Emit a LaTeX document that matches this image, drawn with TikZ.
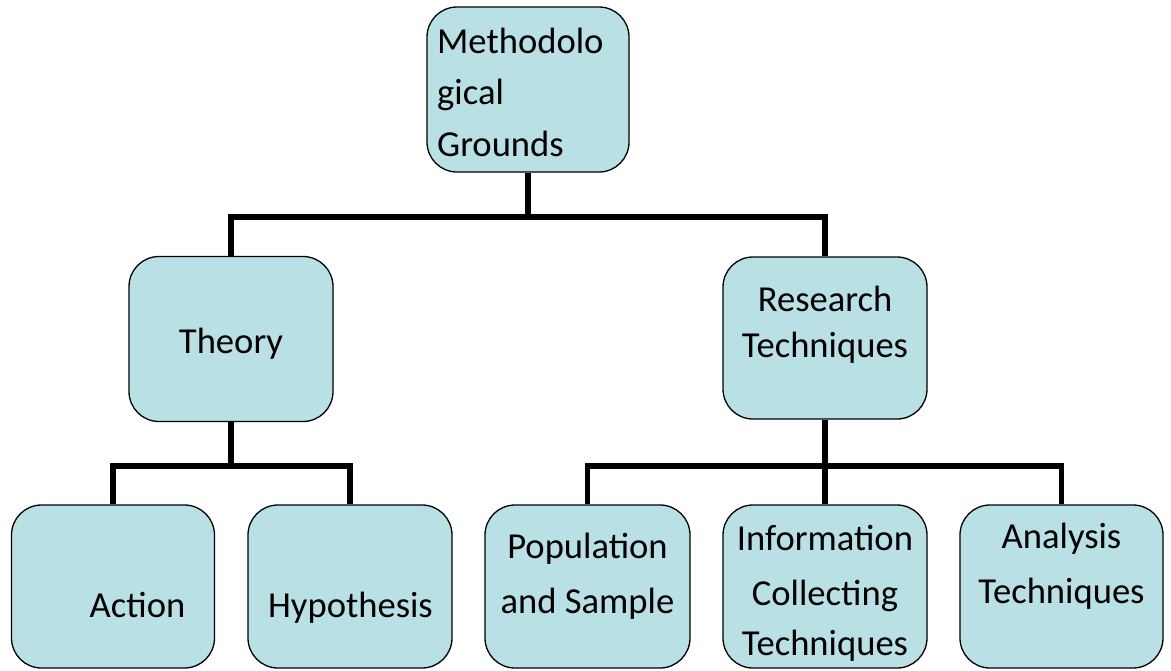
\documentclass[tikz,border=0pt]{standalone}
\usepackage{fontspec}
\setmainfont{Carlito}
\definecolor{boxfill}{RGB}{185,224,228}
\tikzset{
  box/.style={draw=black, line width=1.3pt, fill=boxfill, rounded corners=30pt, inner sep=0pt},
  txt/.style={inner sep=0pt, anchor=base, font=\fontsize{36.6}{44}\selectfont},
  conn/.style={draw=black, line width=5.5pt, line join=miter, line cap=butt},
}
\begin{document}
\begin{tikzpicture}[x=1pt, y=-1pt]
\useasboundingbox (0,0) rectangle (1171,670);
% boxes
\node[box, minimum width=202pt, minimum height=165pt] (M) at (528,89.5) {};
\node[box, minimum width=204pt, minimum height=165pt] (T) at (231,339) {};
\node[box, minimum width=204pt, minimum height=162pt] (R) at (825,338) {};
\node[box, minimum width=203pt, minimum height=163pt] (A) at (113,586.5) {};
\node[box, minimum width=204pt, minimum height=163pt] (H) at (350,586.5) {};
\node[box, minimum width=205pt, minimum height=163pt] (P) at (587.5,586.5) {};
\node[box, minimum width=204pt, minimum height=163pt] (I) at (825,586.5) {};
\node[box, minimum width=203pt, minimum height=163pt] (N) at (1061.5,586.5) {};
% connectors
\draw[conn] (M.south) -- (M.south |- 0,217) -| (T.north);
\draw[conn] (M.south |- 0,217) -| (R.north);
\draw[conn] (T.south) -- (T.south |- 0,466) -| (A.north);
\draw[conn] (T.south |- 0,466) -| (H.north);
\draw[conn] (R.south) -- (I.north);
\draw[conn] (P.north) |- (R.south |- 0,466) -| (N.north);
% texts
\node[txt, anchor=base west] (m1) at (437,53) {Methodolo};
\node[txt, anchor=base west] (m2) at (437,104) {gical};
\node[txt, anchor=base west] (m3) at (437,156) {Grounds};
\node[txt] (t1) at (231,353) {Theory};
\node[txt] (r1) at (825,311) {Research};
\node[txt] (r2) at (825,357) {Techniques};
\node[txt] (a1) at (137.5,617) {Action};
\node[txt] (h1) at (350.5,617) {Hypothesis};
\node[txt] (p1) at (587.5,558) {Population};
\node[txt] (p2) at (587.5,613) {and Sample};
\node[txt] (i1) at (825,550) {Information};
\node[txt] (i2) at (825,605) {Collecting};
\node[txt] (i3) at (825,655) {Techniques};
\node[txt] (n1) at (1061.5,548) {Analysis};
\node[txt] (n2) at (1061.5,603) {Techniques};
\end{tikzpicture}
\end{document}
